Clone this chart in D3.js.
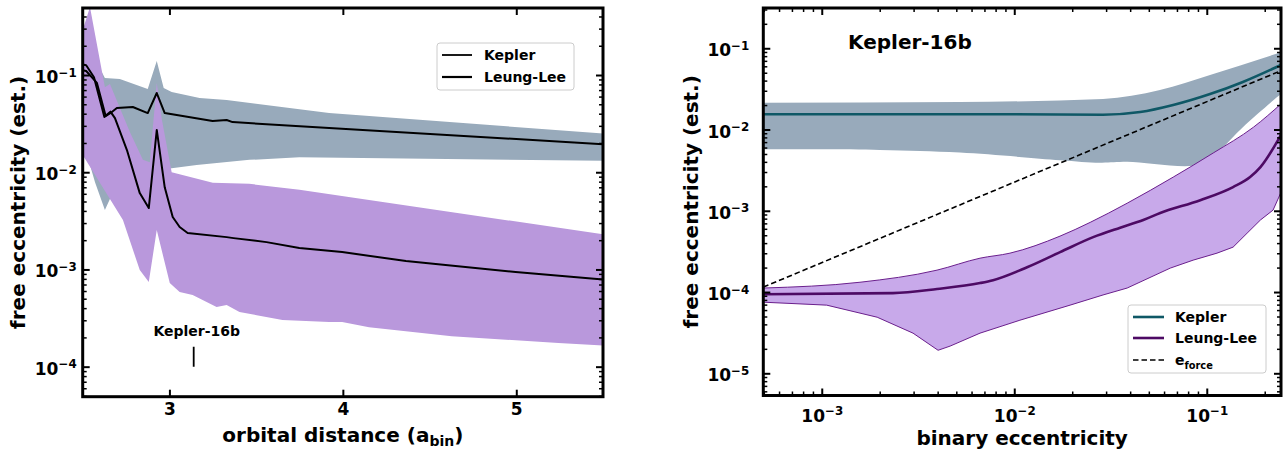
<!DOCTYPE html>
<html><head><meta charset="utf-8">
<script src="https://cdn.jsdelivr.net/npm/d3@7"></script>
<style>
body{margin:0;background:#fff}
text{font-family:"DejaVu Sans",sans-serif;font-weight:bold}
</style>
</head><body><svg id="c" width="1285" height="451"></svg>
<script>
// ---------------- LEFT PANEL DATA (orbital distance a_bin) ----------------
const leftXTicks = [3, 4, 5];
const leftYTicks = [1e-4, 1e-3, 1e-2, 1e-1];
const kepA  = [2.5, 2.52, 2.565, 2.625, 2.668, 2.697, 2.789, 2.875, 2.927, 2.973, 3.249, 3.33, 3.364, 3.921, 5.5];
const kepE  = [0.128, 0.126, 0.095, 0.037, 0.0416, 0.0457, 0.0469, 0.0406, 0.0653, 0.0406, 0.0336, 0.0345, 0.0328, 0.0285, 0.0194];
const llA   = [2.5, 2.52, 2.582, 2.632, 2.66, 2.686, 2.755, 2.829, 2.881, 2.927, 2.973, 3.019, 3.059, 3.105, 3.33, 3.37, 3.56, 3.749, 3.996, 4.364, 4.996, 5.5];
const llE   = [0.112, 0.11, 0.083, 0.038, 0.042, 0.036, 0.0169, 0.0061, 0.00428, 0.0272, 0.0070, 0.00346, 0.00273, 0.00237, 0.00215, 0.0021, 0.00191, 0.00166, 0.00151, 0.00122, 0.00094, 0.00079];
const kepHiA = [2.5, 2.56, 2.628, 2.714, 2.875, 2.927, 2.967, 3.013, 3.174, 3.33, 3.921, 5.5];
const kepHiE = [0.22, 0.16, 0.093, 0.091, 0.0718, 0.139, 0.0735, 0.0668, 0.058, 0.0553, 0.0407, 0.025];
const kepLoA = [2.5, 2.571, 2.628, 2.686, 2.772, 2.887, 3.013, 3.157, 3.462, 3.749, 5.5];
const kepLoE = [0.0214, 0.0079, 0.00408, 0.00687, 0.00935, 0.01, 0.011, 0.0119, 0.0134, 0.0143, 0.0131];
const llHiA = [2.5, 2.542, 2.628, 2.657, 2.772, 2.847, 2.887, 2.927, 2.957, 3.013, 3.25, 3.46, 3.75, 5.5];
const llHiE = [0.29, 0.5, 0.075, 0.081, 0.026, 0.0134, 0.0127, 0.083, 0.0344, 0.010, 0.0078, 0.0076, 0.0066, 0.0023];
const llLoA = [2.5, 2.732, 2.829, 2.881, 2.927, 3.002, 3.059, 3.134, 3.272, 3.33, 3.404, 3.652, 3.921, 3.996, 4.151, 4.628, 5.243, 5.5];
const llLoE = [0.015, 0.00322, 0.000986, 0.000741, 0.00254, 0.000724, 0.000585, 0.000545, 0.00041, 0.00043, 0.000365, 0.000302, 0.000288, 0.000288, 0.000255, 0.000206, 0.000175, 0.000165];
const k16bA = 3.14;
const k16bE = [1.0e-4, 1.6e-4];
const k16bLabelE = 2.05e-4;

// ---------------- RIGHT PANEL DATA (binary eccentricity) ----------------
const rightXTicks = [1e-3, 1e-2, 1e-1];
const rightYTicks = [1e-5, 1e-4, 1e-3, 1e-2, 1e-1];
const rKepX = [4.97e-4, 0.01, 0.0289, 0.0451, 0.0669, 0.104, 0.154, 0.243];
const rKepE = [0.0154, 0.0154, 0.0152, 0.0164, 0.020, 0.0273, 0.0385, 0.0623];
const rKepHiX = [4.97e-4, 0.00522, 0.0289, 0.0571, 0.104, 0.245];
const rKepHiE = [0.0214, 0.0218, 0.0238, 0.0306, 0.0469, 0.09];
const rKepLoX = [4.97e-4, 0.002, 0.00522, 0.0173, 0.0279, 0.0386, 0.0923, 0.117, 0.154, 0.245];
const rKepLoE = [0.0057, 0.0056, 0.0052, 0.0042, 0.0039, 0.0040, 0.0037, 0.0056, 0.0107, 0.028];
const rLLX = [4.97e-4, 0.00234, 0.00397, 0.00664, 0.00776, 0.01166, 0.0173, 0.0257, 0.0355, 0.0468, 0.0573, 0.0925, 0.137, 0.168, 0.19, 0.246];
const rLLE = [9.4e-5, 9.7e-5, 1.09e-4, 1.29e-4, 1.4e-4, 2.02e-4, 3.1e-4, 4.74e-4, 6.2e-4, 7.7e-4, 9.4e-4, 0.00135, 0.00196, 0.0026, 0.00345, 0.00906];
const rLLHiX = [4.97e-4, 0.00158, 0.00397, 0.00664, 0.0095, 0.0173, 0.0248, 0.0386, 0.067, 0.108, 0.175, 0.246];
const rLLHiE = [1.12e-4, 1.32e-4, 1.86e-4, 2.61e-4, 3.01e-4, 4.88e-4, 7.2e-4, 0.00124, 0.0026, 0.00514, 0.0107, 0.0212];
const rLLLoX = [4.97e-4, 0.00106, 0.00194, 0.00298, 0.00402, 0.00464, 0.00664, 0.0107, 0.0195, 0.0289, 0.0386, 0.0646, 0.085, 0.113, 0.137, 0.162, 0.19, 0.221, 0.246];
const rLLLoE = [7.5e-5, 6.9e-5, 4.9e-5, 3.12e-5, 1.92e-5, 2.16e-5, 3.12e-5, 4.5e-5, 6.9e-5, 9.2e-5, 1.12e-4, 1.97e-4, 2.47e-4, 3.01e-4, 3.57e-4, 5.3e-4, 7.7e-4, 1.02e-3, 1.8e-3];
const eForceX = [4.97e-4, 0.243];
const eForceE = [1.15e-4, 0.053];

// ---------------- STYLE / LAYOUT ----------------
const C = {
  kepBand: "#98aabb", llBandL: "#b998dc", llBandR: "#c8a9ea", llEdge: "#6a1f8c",
  kepLineR: "#0f5866", llLineR: "#4d0a64", black: "#000"
};
const LP = {x0: 82.7, x1: 603, y0: 8, y1: 396.7};
const RP = {x0: 763.3, x1: 1281, y0: 8, y1: 395.5};
const TICKFS = 17;

const svg = d3.select("#c");
const zip = (a, b) => a.map((v, i) => [v, b[i]]);

function minorLog(domain) {
  const out = [];
  const lo = Math.floor(Math.log10(domain[0])), hi = Math.ceil(Math.log10(domain[1]));
  for (let d = lo; d <= hi; d++) for (let m = 2; m <= 9; m++) {
    const v = m * Math.pow(10, d);
    if (v >= domain[0] && v <= domain[1]) out.push(v);
  }
  return out;
}
function supLabels(sel) {
  sel.selectAll(".tick text").each(function(d) {
    const t = d3.select(this);
    const p = Math.round(Math.log10(d));
    t.text(null);
    t.append("tspan").text("10");
    t.append("tspan").attr("font-size", "0.7em").attr("dy", "-0.53em").text("\u2212" + Math.abs(p));
  });
}
function styleAxis(g, width) {
  g.select(".domain").remove();
  g.attr("font-size", TICKFS).attr("font-family", "DejaVu Sans, sans-serif").attr("font-weight", "bold");
  g.selectAll(".tick line").attr("stroke", "#000").attr("stroke-width", width);
  g.selectAll(".tick text").attr("fill", "#000");
}

function panelAxes(P, x, y, xTicks, yTicks, xLog, pad, xMinor, yMinor) {
  const g = svg.append("g");
  const b = g.append("g").attr("transform", `translate(0,${P.y1})`)
    .call(d3.axisBottom(x).tickValues(xTicks).tickSize(-7).tickPadding(pad)
      .tickFormat(xLog ? (d => d) : d3.format("d")));
  styleAxis(b, 2);
  if (xLog) supLabels(b);
  const t = g.append("g").attr("transform", `translate(0,${P.y0})`)
    .call(d3.axisTop(x).tickValues(xTicks).tickSize(-7).tickFormat(""));
  styleAxis(t, 2);
  const l = g.append("g").attr("transform", `translate(${P.x0},0)`)
    .call(d3.axisLeft(y).tickValues(yTicks).tickSize(-7).tickPadding(pad).tickFormat(d => d));
  styleAxis(l, 2);
  supLabels(l);
  l.selectAll(".tick text").attr("dy", "0.44em");
  const r = g.append("g").attr("transform", `translate(${P.x1},0)`)
    .call(d3.axisRight(y).tickValues(yTicks).tickSize(-7).tickFormat(""));
  styleAxis(r, 2);
  if (yMinor) {
    [[d3.axisLeft, P.x0], [d3.axisRight, P.x1]].forEach(([ax, px]) => {
      const m = g.append("g").attr("transform", `translate(${px},0)`)
        .call(ax(y).tickValues(yMinor).tickSize(-4).tickFormat(""));
      styleAxis(m, 1.5);
    });
  }
  if (xMinor) {
    [[d3.axisBottom, P.y1], [d3.axisTop, P.y0]].forEach(([ax, py]) => {
      const m = g.append("g").attr("transform", `translate(0,${py})`)
        .call(ax(x).tickValues(xMinor).tickSize(-4).tickFormat(""));
      styleAxis(m, 1.5);
    });
  }
  g.append("rect").attr("x", P.x0).attr("y", P.y0).attr("width", P.x1 - P.x0).attr("height", P.y1 - P.y0)
    .attr("fill", "none").attr("stroke", "#000").attr("stroke-width", 3);
}

function clip(id, P) {
  svg.append("clipPath").attr("id", id).append("rect")
    .attr("x", P.x0).attr("y", P.y0).attr("width", P.x1 - P.x0).attr("height", P.y1 - P.y0);
}
// band outline: upper edge (optionally smoothed) then lower edge back
function bandPath(upperLine, lowerLine, hiX, hiY, loX, loY) {
  const up = upperLine(zip(hiX, hiY));
  const lo = lowerLine(zip(loX, loY).reverse());
  return up + "L" + lo.slice(1) + "Z";
}

// ================= LEFT PANEL =================
const xL = d3.scaleLinear().domain([2.5, 5.5]).range([LP.x0, LP.x1]);
const yL = d3.scaleLog().domain([4.91e-5, 0.489]).range([LP.y1, LP.y0]);
clip("clipL", LP);
const gL = svg.append("g").attr("clip-path", "url(#clipL)");
const lineL = d3.line().x(d => xL(d[0])).y(d => yL(d[1]));

gL.append("path").attr("d", bandPath(lineL, lineL, kepHiA, kepHiE, kepLoA, kepLoE)).attr("fill", C.kepBand);
gL.append("path").attr("d", bandPath(lineL, lineL, llHiA, llHiE, llLoA, llLoE)).attr("fill", C.llBandL);
gL.append("path").attr("d", lineL(zip(kepA, kepE))).attr("fill", "none").attr("stroke", "#000").attr("stroke-width", 2).attr("stroke-linejoin", "round");
gL.append("path").attr("d", lineL(zip(llA, llE))).attr("fill", "none").attr("stroke", "#000").attr("stroke-width", 2).attr("stroke-linejoin", "round");
gL.append("line").attr("x1", xL(k16bA)).attr("x2", xL(k16bA)).attr("y1", yL(k16bE[0])).attr("y2", yL(k16bE[1]))
  .attr("stroke", "#000").attr("stroke-width", 1.8);
svg.append("text").attr("x", xL(k16bA) + 3).attr("y", yL(k16bLabelE)).attr("text-anchor", "middle")
  .attr("font-size", 14).text("Kepler-16b");

panelAxes(LP, xL, yL, leftXTicks, leftYTicks, false, 6, null, minorLog(yL.domain()));

(function() {
  const g = svg.append("g");
  g.append("rect").attr("x", 437).attr("y", 43).attr("width", 137).attr("height", 47).attr("rx", 3)
    .attr("fill", "#fff").attr("fill-opacity", 0.8).attr("stroke", "#cccccc").attr("stroke-width", 1);
  [["Kepler", 55, 1.8], ["Leung-Lee", 77, 2.2]].forEach(([t, y, w]) => {
    g.append("line").attr("x1", 442).attr("x2", 472).attr("y1", y).attr("y2", y).attr("stroke", "#000").attr("stroke-width", w);
    g.append("text").attr("x", 484).attr("y", y + 5).attr("font-size", 14).text(t);
  });
})();

(function() {
  const t = svg.append("text").attr("x", (LP.x0 + LP.x1) / 2).attr("y", 442).attr("text-anchor", "middle").attr("font-size", 20);
  t.append("tspan").text("orbital distance (a");
  t.append("tspan").attr("font-size", "0.7em").attr("dy", "0.3em").text("bin");
  t.append("tspan").attr("dy", "-0.21em").text(")");
  svg.append("text").attr("transform", `translate(25,${(LP.y0 + LP.y1) / 2}) rotate(-90)`)
    .attr("text-anchor", "middle").attr("font-size", 20).text("free eccentricity (est.)");
})();

// ================= RIGHT PANEL =================
const xR = d3.scaleLog().domain([4.97e-4, 0.243]).range([RP.x0, RP.x1]);
const yR = d3.scaleLog().domain([5.33e-6, 0.313]).range([RP.y1, RP.y0]);
clip("clipR", RP);
const gR = svg.append("g").attr("clip-path", "url(#clipR)");
const lineR = d3.line().x(d => xR(d[0])).y(d => yR(d[1]));
const lineRs = d3.line().x(d => xR(d[0])).y(d => yR(d[1])).curve(d3.curveMonotoneX);
const lineRc = d3.line().x(d => xR(d[0])).y(d => yR(d[1])).curve(d3.curveCatmullRom.alpha(0.5));

gR.append("path").attr("d", bandPath(lineRs, lineRc, rKepHiX, rKepHiE, rKepLoX, rKepLoE)).attr("fill", C.kepBand);
gR.append("path").attr("d", bandPath(lineRs, lineR, rLLHiX, rLLHiE, rLLLoX, rLLLoE)).attr("fill", C.llBandR);
gR.append("path").attr("d", lineRs(zip(rLLHiX, rLLHiE))).attr("fill", "none").attr("stroke", C.llEdge).attr("stroke-width", 1);
gR.append("path").attr("d", lineR(zip(rLLLoX, rLLLoE))).attr("fill", "none").attr("stroke", C.llEdge).attr("stroke-width", 1);
gR.append("path").attr("d", lineR(zip(eForceX, eForceE))).attr("fill", "none").attr("stroke", "#000").attr("stroke-width", 1.6).attr("stroke-dasharray", "5.5,3");
gR.append("path").attr("d", lineRs(zip(rKepX, rKepE))).attr("fill", "none").attr("stroke", C.kepLineR).attr("stroke-width", 2.6);
gR.append("path").attr("d", lineRs(zip(rLLX, rLLE))).attr("fill", "none").attr("stroke", C.llLineR).attr("stroke-width", 2.6);

panelAxes(RP, xR, yR, rightXTicks, rightYTicks, true, 14, minorLog(xR.domain()), minorLog(yR.domain()));

svg.append("text").attr("x", 848).attr("y", 49).attr("font-size", 20).text("Kepler-16b");

(function() {
  const g = svg.append("g");
  g.append("rect").attr("x", 1128).attr("y", 305).attr("width", 138).attr("height", 68).attr("rx", 3)
    .attr("fill", "#fff").attr("fill-opacity", 0.8).attr("stroke", "#cccccc").attr("stroke-width", 1);
  [["Kepler", 317, C.kepLineR, 2.6, null], ["Leung-Lee", 338, C.llLineR, 2.6, null], ["e", 360, "#000", 1.6, "5.5,3"]].forEach(([t, y, c, w, dash]) => {
    const ln = g.append("line").attr("x1", 1133).attr("x2", 1164).attr("y1", y).attr("y2", y).attr("stroke", c).attr("stroke-width", w);
    if (dash) ln.attr("stroke-dasharray", dash);
    const tx = g.append("text").attr("x", 1175).attr("y", y + 5).attr("font-size", 14).text(t);
    if (t === "e") tx.append("tspan").attr("font-size", "0.7em").attr("dy", "0.4em").text("force");
  });
})();

(function() {
  svg.append("text").attr("x", (RP.x0 + RP.x1) / 2).attr("y", 445).attr("text-anchor", "middle").attr("font-size", 20).text("binary eccentricity");
  svg.append("text").attr("transform", `translate(698,${(RP.y0 + RP.y1) / 2}) rotate(-90)`)
    .attr("text-anchor", "middle").attr("font-size", 20).text("free eccentricity (est.)");
})();
</script></body></html>
